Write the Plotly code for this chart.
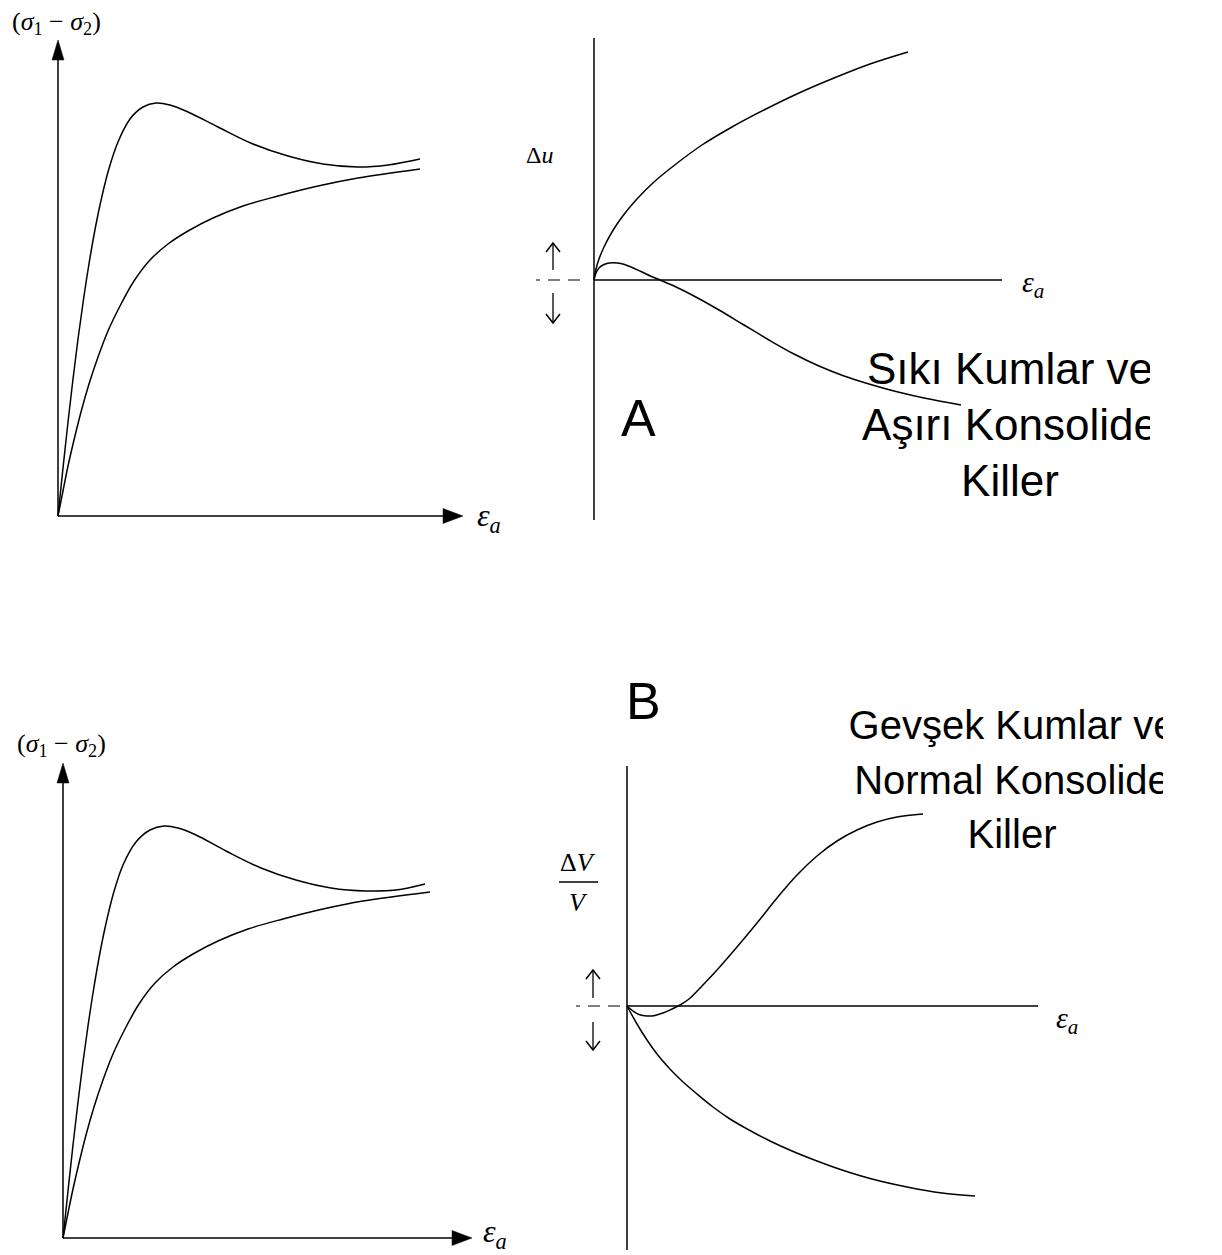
import plotly.graph_objects as go

W, H = 1222, 1255
S = 10.0  # pixels per data unit on every panel

# ---------------- data (arbitrary units) ----------------
# A: dense sands / overconsolidated clays - deviator stress vs axial strain
a_peak_strain = [0, 0.5, 1.0, 1.5, 2.0, 2.5, 3.0, 3.6, 4.2, 5.0, 6.0, 7.2, 8.5, 9.8, 11.2, 13.0, 16.0, 19.5, 23.0, 26.5, 30.0, 33.0, 36.2]
a_peak_stress = [0, 4.8, 9.4, 13.7, 17.7, 21.3, 24.6, 28.1, 31.1, 34.4, 37.4, 39.7, 40.9, 41.3, 41.1, 40.4, 38.9, 37.2, 36.0, 35.2, 34.9, 35.1, 35.7]
a_soft_strain = [0, 0.5, 1.0, 1.6, 2.3, 3.1, 4.0, 5.0, 6.2, 7.6, 9.2, 11.0, 13.0, 15.5, 18.5, 22.0, 26.0, 30.0, 36.2]
a_soft_stress = [0, 2.5, 5.0, 7.6, 10.4, 13.2, 15.9, 18.5, 21.0, 23.5, 25.6, 27.2, 28.5, 29.8, 31.0, 32.0, 33.0, 33.8, 34.7]
# A: pore pressure change vs axial strain
a_du_pos_strain = [0, 0.2, 0.5, 1.0, 1.8, 2.8, 4.2, 6.0, 8.2, 10.8, 13.8, 17.0, 20.5, 24.0, 27.6, 31.4]
a_du_pos = [0, 1.1, 2.1, 3.3, 4.8, 6.3, 8.0, 9.8, 11.6, 13.5, 15.3, 17.0, 18.7, 20.2, 21.6, 22.8]
a_du_neg_strain = [0, 0.2, 0.5, 1.0, 1.8, 2.7, 3.7, 4.8, 5.8, 6.6, 8.0, 10.0, 12.5, 15.0, 17.5, 20.0, 22.5, 25.0, 27.5, 30.0, 33.0, 36.7]
a_du_neg = [0, 0.7, 1.2, 1.55, 1.73, 1.65, 1.3, 0.8, 0.33, 0, -0.6, -1.6, -3.0, -4.5, -6.0, -7.4, -8.6, -9.6, -10.4, -11.1, -11.8, -12.5]

# B: loose sands / normally consolidated clays - deviator stress vs axial strain
b_peak_strain = [0, 0.5, 1.0, 1.5, 2.0, 2.5, 3.0, 3.6, 4.2, 5.0, 6.0, 7.3, 8.7, 10.1, 11.5, 13.3, 16.3, 19.8, 23.3, 26.8, 30.3, 33.3, 36.2]
b_peak_stress = [0, 4.7, 9.3, 13.6, 17.6, 21.2, 24.5, 28.0, 31.0, 34.3, 37.3, 39.6, 40.8, 41.2, 41.0, 40.3, 38.7, 37.0, 35.8, 35.0, 34.7, 34.8, 35.4]
b_soft_strain = [0, 0.5, 1.0, 1.6, 2.3, 3.1, 4.0, 5.0, 6.2, 7.6, 9.2, 11.0, 13.0, 15.5, 18.5, 22.0, 26.0, 30.0, 36.7]
b_soft_stress = [0, 2.5, 4.9, 7.5, 10.3, 13.1, 15.8, 18.4, 20.9, 23.4, 25.5, 27.1, 28.4, 29.7, 30.9, 31.9, 32.9, 33.7, 34.6]
# B: volume change vs axial strain
b_dv_pos_strain = [0, 0.6, 1.2, 2.0, 2.8, 3.6, 4.5, 5.3, 6.2, 7.5, 9.0, 11.0, 13.0, 15.0, 17.0, 19.0, 21.0, 23.0, 25.0, 27.0, 29.6]
b_dv_pos = [0, -0.5, -0.85, -1.0, -0.95, -0.7, -0.3, 0.1, 0.7, 2.0, 3.6, 5.9, 8.3, 10.8, 13.1, 15.0, 16.5, 17.6, 18.4, 18.9, 19.2]
b_dv_neg_strain = [0, 1.0, 2.0, 3.0, 4.2, 5.5, 7.0, 8.6, 10.3, 12.2, 14.3, 16.5, 19.0, 21.5, 24.5, 28.0, 31.5, 34.8]
b_dv_neg = [0, -1.8, -3.4, -4.8, -6.2, -7.5, -8.8, -10.1, -11.3, -12.4, -13.5, -14.5, -15.5, -16.4, -17.3, -18.1, -18.7, -19.0]

label_A = "A"
label_B = "B"
text_A = ["Sıkı Kumlar ve", "Aşırı Konsolide", "Killer"]
text_B = ["Gevşek Kumlar ve", "Normal Konsolide", "Killer"]

# ---------------- layout of the four panels (pixel boxes) ----------------
panels = {
    "TL": dict(box=(0, 0, 520, 600), origin=(58, 516), ax=("x", "y")),
    "TR": dict(box=(520, 0, 1150, 600), origin=(594, 280), ax=("x2", "y2")),
    "BL": dict(box=(0, 600, 520, 1255), origin=(63, 1238), ax=("x3", "y3")),
    "BR": dict(box=(520, 600, 1163, 1255), origin=(627, 1006), ax=("x4", "y4")),
}

fig = go.Figure()
lay = {}
for i, (name, p) in enumerate(panels.items(), start=1):
    x0, y0, x1, y1 = p["box"]
    ox, oy = p["origin"]
    sfx = "" if i == 1 else str(i)
    lay["xaxis" + sfx] = dict(domain=[x0 / W, x1 / W], range=[(x0 - ox) / S, (x1 - ox) / S],
                             visible=False, fixedrange=True, anchor="y" + sfx)
    lay["yaxis" + sfx] = dict(domain=[1 - y1 / H, 1 - y0 / H], range=[(oy - y1) / S, (oy - y0) / S],
                             visible=False, fixedrange=True, anchor="x" + sfx)

LW = 1.5


def curve(panel, xs, ys):
    xa, ya = panels[panel]["ax"]
    fig.add_trace(go.Scatter(x=xs, y=ys, mode="lines", xaxis=xa, yaxis=ya, hoverinfo="skip",
                             line=dict(color="black", width=LW, shape="spline", smoothing=1.0)))


curve("TL", a_peak_strain, a_peak_stress)
curve("TL", a_soft_strain, a_soft_stress)
curve("TR", a_du_pos_strain, a_du_pos)
curve("TR", a_du_neg_strain, a_du_neg)
curve("BL", b_peak_strain, b_peak_stress)
curve("BL", b_soft_strain, b_soft_stress)
curve("BR", b_dv_pos_strain, b_dv_pos)
curve("BR", b_dv_neg_strain, b_dv_neg)

shapes = []


def refs(panel):
    xa, ya = panels[panel]["ax"]
    return dict(xref=xa, yref=ya)


def seg(panel, x0, y0, x1, y1, dash="solid", width=LW):
    shapes.append(dict(type="line", x0=x0 / S, y0=y0 / S, x1=x1 / S, y1=y1 / S,
                       line=dict(color="black", width=width, dash=dash), **refs(panel)))


def poly(panel, pts, closed=True, fill=True):
    d = "M " + " L ".join(f"{x / S},{y / S}" for x, y in pts) + (" Z" if closed else "")
    shapes.append(dict(type="path", path=d, fillcolor="black" if fill else "rgba(0,0,0,0)",
                       line=dict(color="black", width=LW if not fill else 0.5), **refs(panel)))


# stress-strain axes with filled arrow heads
for pn, xtip, ytip in (("TL", 405, 476), ("BL", 409, 475)):
    seg(pn, 0, 0, xtip - 18, 0)
    seg(pn, 0, 0, 0, ytip - 18)
    poly(pn, [(xtip, 0), (xtip - 20, 7.5), (xtip - 20, -7.5)])
    poly(pn, [(0, ytip), (-6, ytip - 20), (6, ytip - 20)])

# response axes
for pn, ytop, ybot, xend, xdash0, xdash1, xarr, up0, up1, dn0, dn1 in (
        ("TR", 242, -240, 408, -14, -58, -41, 10, 37, -13, -43),
        ("BR", 240, -244, 411, -7, -51, -34, 8, 36, -16, -44)):
    seg(pn, 0, ybot, 0, ytop)
    seg(pn, 0, 0, xend, 0)
    seg(pn, xdash0, 0, xdash1, 0, dash="12px,8px", width=1.2)
    seg(pn, xarr, up0, xarr, up1, width=1.3)
    poly(pn, [(xarr - 7, up1 - 9), (xarr, up1), (xarr + 7, up1 - 9)], closed=False, fill=False)
    seg(pn, xarr, dn0, xarr, dn1, width=1.3)
    poly(pn, [(xarr - 7, dn1 + 9), (xarr, dn1), (xarr + 7, dn1 + 9)], closed=False, fill=False)

# fraction bar of dV/V
shapes.append(dict(type="line", xref="paper", yref="paper", x0=559 / W, x1=598 / W,
                   y0=1 - 882 / H, y1=1 - 882 / H, line=dict(color="black", width=1.3)))

# block texts (clipped at the panel edge like the original text boxes)
for pn, cx, rows, texts, fs in (("TR", 1010, (373, 429, 485), text_A, 44),
                                ("BR", 1012, (729, 784, 838), text_B, 40)):
    ox, oy = panels[pn]["origin"]
    xa, ya = panels[pn]["ax"]
    fig.add_trace(go.Scatter(x=[(cx - ox) / S] * 3, y=[(oy - r) / S for r in rows], text=texts,
                             mode="text", textposition="middle center", cliponaxis=True,
                             hoverinfo="skip", xaxis=xa, yaxis=ya,
                             textfont=dict(family="Liberation Sans, Arial", size=fs, color="black")))

SERIF = "Liberation Serif, Times New Roman, serif"
SANS = "Liberation Sans, Arial, sans-serif"
ann = []


def label(text, px, py, size, family=SERIF, xanchor="center"):
    ann.append(dict(text=text, x=px / W, y=1 - py / H, xref="paper", yref="paper",
                    xanchor=xanchor, yanchor="middle", showarrow=False,
                    font=dict(family=family, size=size, color="black")))


sig = "(<i>σ</i><sub>1</sub> − <i>σ</i><sub>2</sub>)"
eps = "<i>ε</i><sub><i>a</i></sub>"
label(sig, 56, 23, 26)
label(sig, 61, 745, 26)
label(eps, 475, 517, 32, xanchor="left")
label(eps, 481, 1233, 32, xanchor="left")
label(eps, 1020, 284, 30, xanchor="left")
label(eps, 1054, 1020, 30, xanchor="left")
label("Δ<i>u</i>", 524, 155, 24, xanchor="left")
label("Δ<i>V</i>", 578, 862, 26)
label("<i>V</i>", 578, 902, 26)
label(label_A, 638, 418, 52, family=SANS)
label(label_B, 643, 701, 52, family=SANS)

fig.update_layout(width=W, height=H, margin=dict(l=0, r=0, t=0, b=0, pad=0),
                  paper_bgcolor="white", plot_bgcolor="rgba(0,0,0,0)", showlegend=False,
                  shapes=shapes, annotations=ann, hovermode=False, **lay)

fig.write_html("out.html", config={"displayModeBar": False},
               post_script="document.body.style.margin='0px';document.body.style.overflow='hidden';")
